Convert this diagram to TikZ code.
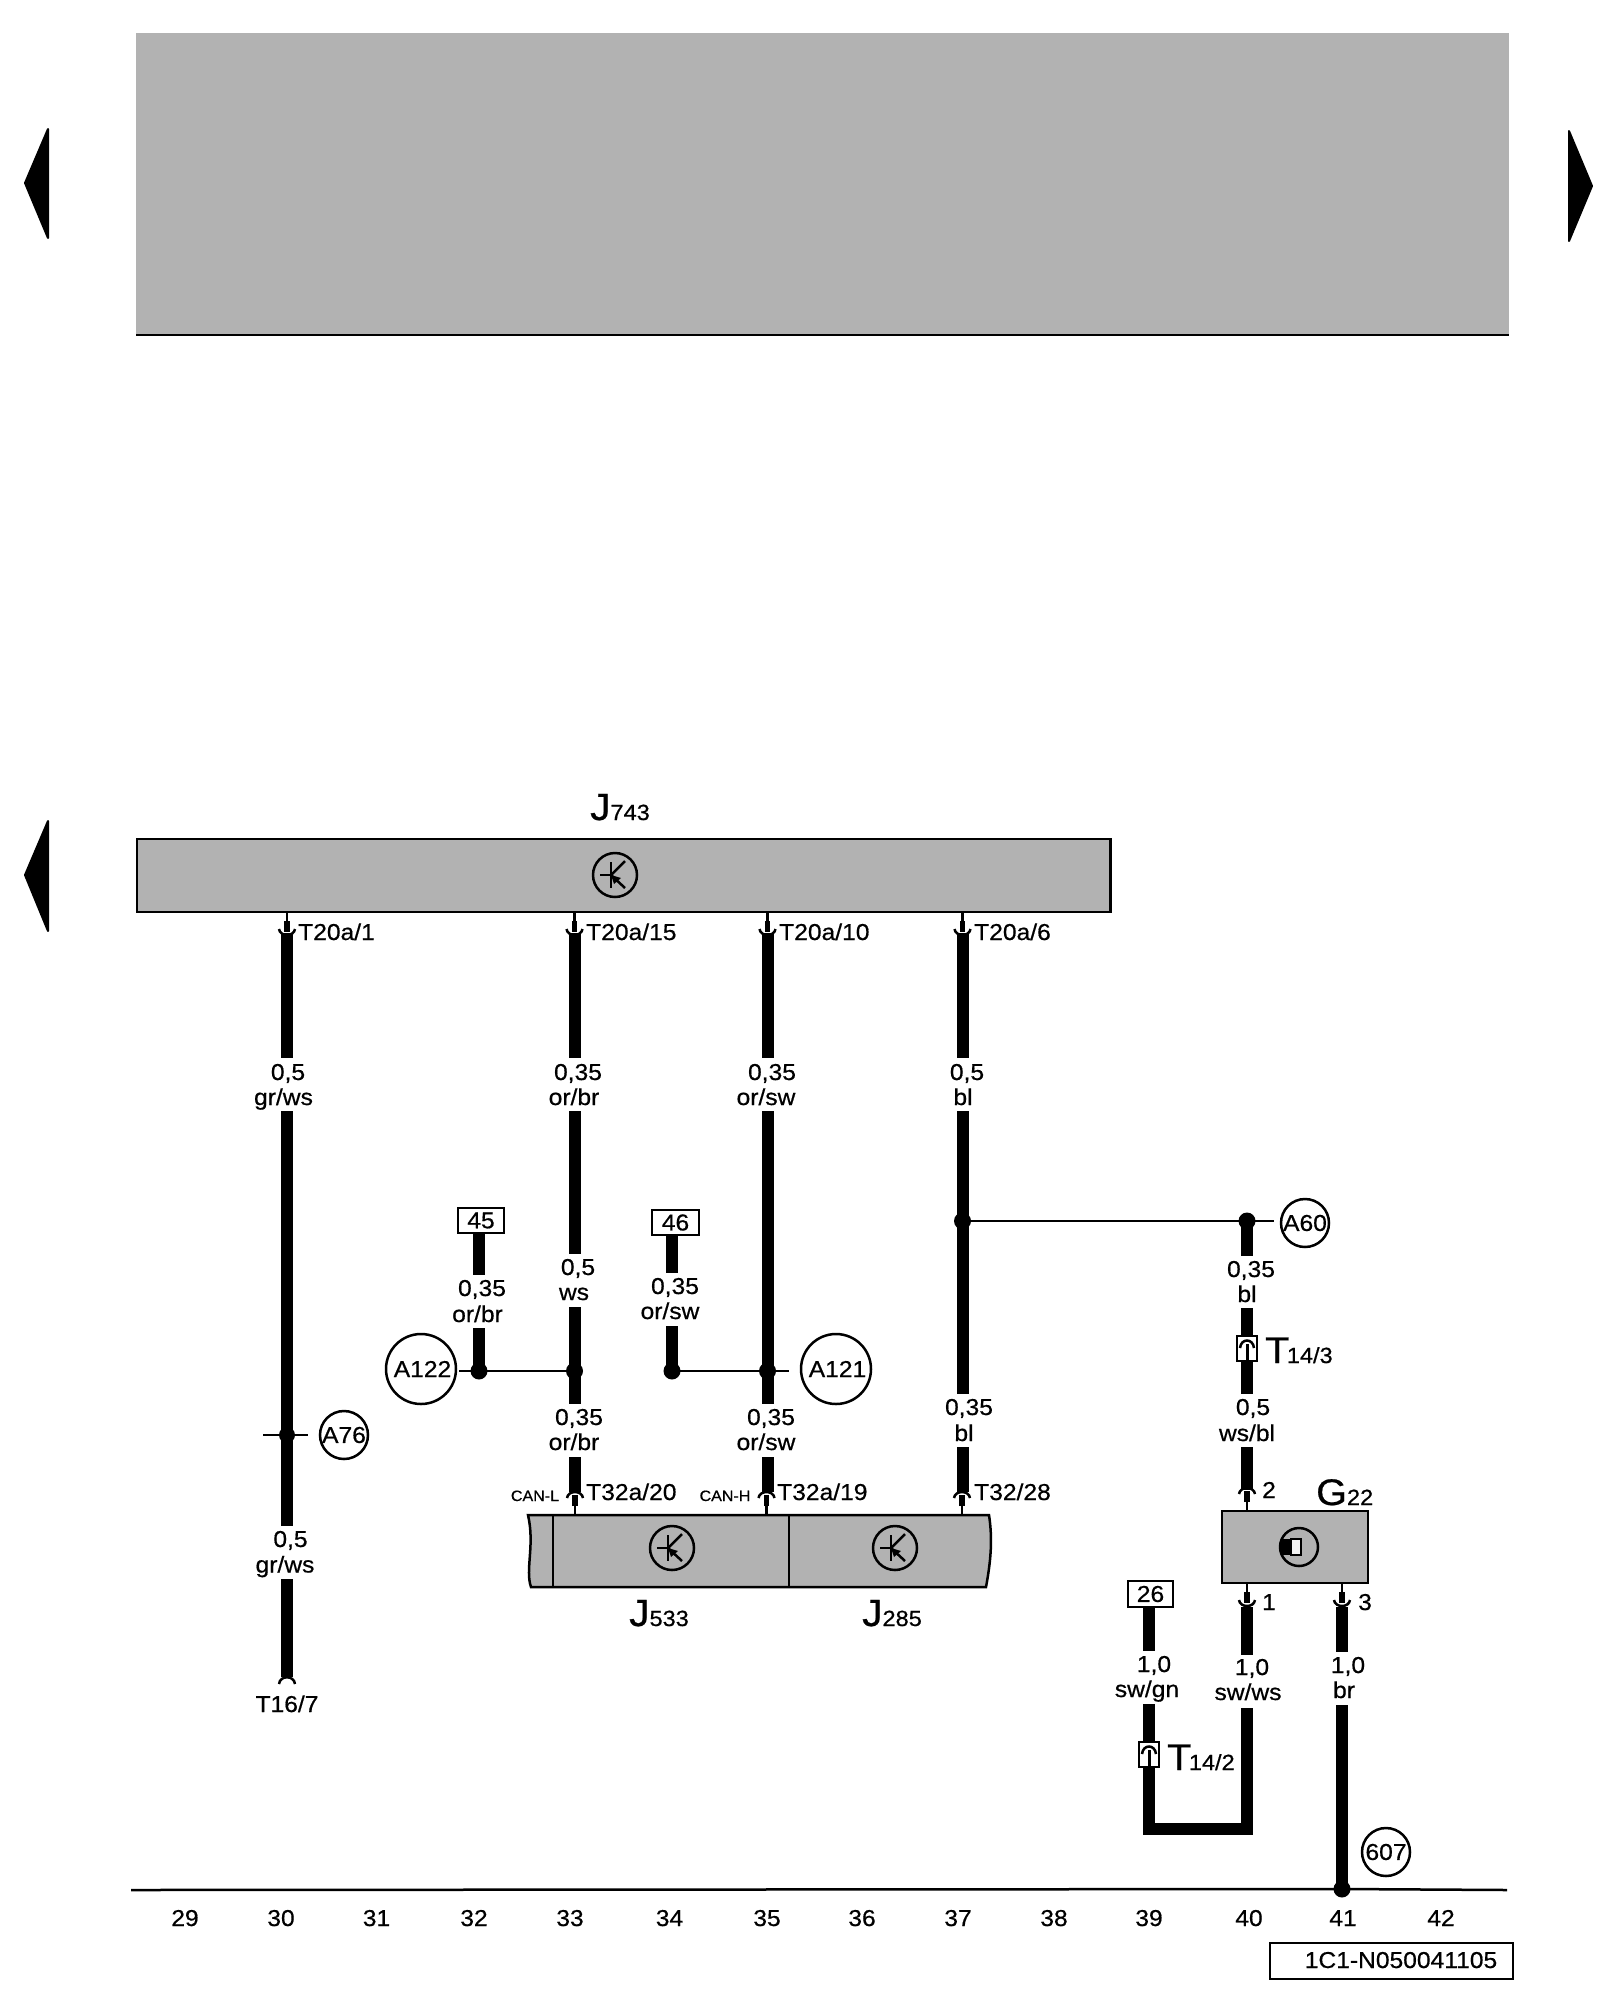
\documentclass[tikz,border=0pt]{standalone}
\usepackage{fontspec}
\setmainfont[FakeStretch=1.07,FakeBold=0.6]{Liberation Sans}
\definecolor{modgray}{HTML}{B2B2B2}
\newcommand\fsz[1]{\fontsize{#1}{#1}\selectfont}
\newcommand\bigsub[2]{{\fsz{37}#1}\kern-2.5pt{\fsz{22}#2}}
% pins: #1 x, #2 y of the box edge
\newcommand\pinDown[2]{
  \draw[thinline] (#1,#2) -- (#1,#2+10);
  \draw[stem] (#1,#2+9) -- (#1,#2+20);
  \draw[pinarc] (#1-8,#2+17) .. controls (#1-7,#2+25) and (#1+7,#2+25) .. (#1+8,#2+17);
}
\newcommand\pinUp[2]{
  \draw[thinline] (#1,#2) -- (#1,#2-10);
  \draw[stem] (#1,#2-9) -- (#1,#2-20);
  \draw[pinarc] (#1-8,#2-17) .. controls (#1-7,#2-25) and (#1+7,#2-25) .. (#1+8,#2-17);
}
% transistor symbol: #1 name, #2 x, #3 y
\newcommand\transistor[3]{
  \node[symcirc,minimum size=44pt] (#1) at (#2,#3) {};
  \draw[symline] (#2-4,#3-13) -- (#2-4,#3+13);
  \draw[symline] (#2-15,#3) -- (#2-4,#3);
  \draw[symline] (#2-4,#3) -- (#2+10,#3-14);
  \draw[symline] (#2-4,#3) -- (#2+10,#3+13);
  \fill (#2-4,#3) -- (#2-1,#3+9) -- (#2+6,#3+3) -- cycle;
}
% inline connector: #1 name, #2 x centre, #3 top, #4 bottom
\newcommand\inlinepin[4]{
  \node[conbox,minimum width=20pt,minimum height=#4-#3] (#1) at (#2,#3/2+#4/2) {};
  \draw[pinarc] (#2-7,#3+12) .. controls (#2-6,#3+2) and (#2+6,#3+2) .. (#2+7,#3+12);
  \draw[line width=3pt] (#2,#3+8) -- (#2,#4);
}
\tikzset{
  x=1pt,y=-1pt,
  wire/.style={line width=12pt,black},
  thinline/.style={line width=2.5pt,black},
  stem/.style={line width=5.5pt,black},
  pinarc/.style={line width=2.5pt,black},
  symline/.style={line width=2.5pt,black},
  symcirc/.style={circle,draw=black,line width=2.5pt,inner sep=0pt},
  module/.style={fill=modgray,draw=black,line width=2.5pt},
  conbox/.style={rectangle,draw=black,fill=white,line width=2.5pt,inner sep=0pt},
  numbox/.style={rectangle,draw=black,fill=white,line width=2.5pt,inner sep=0pt,font=\fsz{23}},
  jdot/.style={circle,fill=black,inner sep=0pt,minimum size=17pt},
  lab/.style={inner sep=0pt,anchor=base,font=\fsz{23}},
  labl/.style={inner sep=0pt,anchor=base west,font=\fsz{23}},
  small/.style={inner sep=0pt,anchor=base,font=\fsz{15}},
  ref/.style={circle,draw=black,line width=2.5pt,inner sep=0pt,font=\fsz{23}},
  nav/.style={fill=black,draw=black,line width=2pt,line join=round},
}
\begin{document}
\begin{tikzpicture}
\useasboundingbox (0,0) rectangle (1600,2000);
\fill[white] (0,0) rectangle (1600,2000);
% top grey block
\fill[modgray] (136,33) rectangle (1509,335);
\draw[thinline] (136,335) -- (1509,335);
% navigation arrows
\draw[nav] (48,129) -- (25,183) -- (48,238) -- cycle;
\draw[nav] (48,821) -- (25,875) -- (48,931) -- cycle;
\draw[nav] (1569,131) -- (1592,186) -- (1569,241) -- cycle;
% J743
\node[module,rectangle,inner sep=0pt,minimum width=973.5pt,minimum height=73pt] (J743box) at (623.5,875.5) {};
\transistor{J743sym}{615}{875}
\node[labl] (J743lab) at (590,820) {{\fsz{38}J}{\fsz{22}743}};
% J533 / J285
\draw[module] (528,1515) -- (989,1515) .. controls (992,1535) and (992,1555) .. (986,1587)
  -- (531,1587) .. controls (525,1570) and (535,1545) .. (528,1515) -- cycle;
\draw[thinline] (553,1515) -- (553,1587);
\draw[thinline] (789,1515) -- (789,1587);
\transistor{J533sym}{672}{1548}
\transistor{J285sym}{895}{1548}
\node[labl] (J533lab) at (629,1626) {{\fsz{38}J}{\fsz{22}533}};
\node[labl] (J285lab) at (862,1626) {{\fsz{38}J}{\fsz{22}285}};
% G22
\node[module,rectangle,inner sep=0pt,minimum width=146pt,minimum height=72pt] (G22box) at (1295,1547) {};
\begin{scope}
  \clip (1299,1547) circle (19);
  \fill[black] (1278,1539) rectangle (1291,1555);
\end{scope}
\draw[line width=2.5pt,fill=white!85!modgray] (1291,1539) rectangle (1301,1555);
\node[symcirc,minimum size=38pt] (G22sym) at (1299,1547) {};
\node[labl] (G22lab) at (1316,1505) {{\fsz{37}G}{\fsz{22}22}};
% terminal boxes
\node[numbox,minimum width=46pt,minimum height=25pt] (b45) at (481,1220.5) {45};
\node[numbox,minimum width=47pt,minimum height=25pt] (b46) at (675.5,1222.5) {46};
\node[numbox,minimum width=45pt,minimum height=26pt] (b26) at (1150.5,1594) {26};
% junctions
\node[jdot] (j33) at (574.5,1371) {};
\node[jdot] (j35) at (767.5,1371) {};
\node[jdot] (j32) at (479,1371) {};
\node[jdot] (j34) at (672,1371) {};
\node[jdot] (j37) at (962.5,1221) {};
\node[jdot] (j40) at (1247,1221) {};
\node[jdot,minimum size=16pt] (j30) at (287,1435) {};
\node[jdot] (j41) at (1342,1889) {};
% reference circles
\node[ref,minimum size=70pt] (A122) at (421,1369) {\makebox[0pt]{\hspace{3pt}A122}};
\node[ref,minimum size=70pt] (A121) at (836,1369) {\makebox[0pt]{\hspace{3pt}A121}};
\node[ref,minimum size=48pt] (A76) at (344,1435) {\makebox[0pt]{A76}};
\node[ref,minimum size=48pt] (A60) at (1305,1223) {\makebox[0pt]{A60}};
\node[ref,minimum size=48pt] (r607) at (1386,1852) {\makebox[0pt]{607}};
% thin links
\coordinate (A122end) at (459,1371);
\coordinate (A121end) at (789,1371);
\coordinate (A60end) at (1274,1221);
\coordinate (A76l) at (263,1435);
\coordinate (A76r) at (308,1435);
\draw[thinline] (A122end) -- (j33.center);
\draw[thinline] (j34.center) -- (A121end);
\draw[thinline] (j37.center) -- (A60end);
\draw[thinline] (A76l) -- (A76r);
% wires
\foreach \n/\x/\a/\b in {
  a1/287/933/1058, a2/287/1111/1526, a3/287/1579/1677,
  b1/574.5/933/1058, b2/574.5/1111/1254, b3/574.5/1307/1404, b4/574.5/1457/1492,
  c1/767.5/933/1058, c2/767.5/1111/1404, c3/767.5/1457/1492,
  d1/962.5/933/1058, d2/962.5/1111/1394, d3/962.5/1447/1492,
  e1/479/1233/1275, e2/479/1328/1371,
  f1/672/1235/1273, f2/672/1326/1371,
  g1/1247/1221/1256, g2/1247/1308/1394, g3/1247/1447/1490,
  h1/1247/1607/1655,
  i1/1149/1607/1651,
  k1/1342/1607/1652, k2/1342/1705/1889}{
  \coordinate (\n s) at (\x,\a);
  \coordinate (\n e) at (\x,\b);
  \draw[wire] (\n s) -- (\n e);
}
% return loop 39-40
\coordinate (loopA) at (1149,1704);
\coordinate (loopB) at (1149,1829);
\coordinate (loopC) at (1247,1829);
\coordinate (loopD) at (1247,1708);
\draw[wire,line join=miter] (loopA) -- (loopB) -- (loopC) -- (loopD);
% pins
\pinDown{287}{912}
\pinDown{574.5}{912}
\pinDown{767.5}{912}
\pinDown{962.5}{912}
\pinUp{575}{1515}
\pinUp{766.5}{1515}
\pinUp{962}{1515}
\pinUp{1247}{1511}
\pinDown{1247}{1583}
\pinDown{1342}{1583}
\draw[pinarc] (279,1684) .. controls (280,1675) and (294,1675) .. (295,1684);
% in-line connectors
\inlinepin{T143}{1247}{1336}{1361}
\inlinepin{T142}{1149}{1742}{1767}
\node[labl] (T143lab) at (1265,1363) {\bigsub{T}{14/3}};
\node[labl] (T142lab) at (1167,1770) {\bigsub{T}{14/2}};
% ground bus
\coordinate (busL) at (131,1890);
\coordinate (busR) at (1507,1890);
\draw[thinline] (busL) -- (j41.center) -- (busR);
% pin labels
\node[labl] (pT201) at (298,940) {T20a/1};
\node[labl] (pT2015) at (586,940) {T20a/15};
\node[labl] (pT2010) at (779,940) {T20a/10};
\node[labl] (pT206) at (974,940) {T20a/6};
\node[labl] (pT3220) at (586,1500) {T32a/20};
\node[labl] (pT3219) at (777,1500) {T32a/19};
\node[labl] (pT3228) at (974,1500) {T32/28};
\node[small] (canl) at (535,1501) {CAN-L};
\node[small] (canh) at (725,1501) {CAN-H};
\node[lab] (pT167) at (287,1712) {T16/7};
\node[lab] (p2) at (1269,1498) {2};
\node[lab] (p1) at (1269,1610) {1};
\node[lab] (p3) at (1365,1610) {3};
% wire labels
\node[lab] (a1x) at (288,1080) {0,5};
\node[lab] (a1c) at (283.5,1105) {gr/ws};
\node[lab] (a2x) at (290.5,1547) {0,5};
\node[lab] (a2c) at (285,1572.5) {gr/ws};
\node[lab] (b1x) at (578,1080) {0,35};
\node[lab] (b1c) at (574,1105) {or/br};
\node[lab] (b2x) at (578,1275) {0,5};
\node[lab] (b2c) at (574,1300) {ws};
\node[lab] (b3x) at (579,1425) {0,35};
\node[lab] (b3c) at (574,1450) {or/br};
\node[lab] (c1x) at (772,1080) {0,35};
\node[lab] (c1c) at (766,1105) {or/sw};
\node[lab] (c3x) at (771,1425) {0,35};
\node[lab] (c3c) at (766,1450) {or/sw};
\node[lab] (d1x) at (967,1080) {0,5};
\node[lab] (d1c) at (963,1105) {bl};
\node[lab] (d3x) at (969,1415) {0,35};
\node[lab] (d3c) at (964,1441) {bl};
\node[lab] (e1x) at (482,1296) {0,35};
\node[lab] (e1c) at (477.5,1322) {or/br};
\node[lab] (f1x) at (675,1294) {0,35};
\node[lab] (f1c) at (670,1319) {or/sw};
\node[lab] (g1x) at (1251,1277) {0,35};
\node[lab] (g1c) at (1247,1302) {bl};
\node[lab] (g2x) at (1253,1415) {0,5};
\node[lab] (g2c) at (1247,1441) {ws/bl};
\node[lab] (i1x) at (1154,1672) {1,0};
\node[lab] (i1c) at (1147,1697) {sw/gn};
\node[lab] (h1x) at (1252,1675) {1,0};
\node[lab] (h1c) at (1248,1700) {sw/ws};
\node[lab] (k1x) at (1348,1673) {1,0};
\node[lab] (k1c) at (1344,1698) {br};
% column numbers
\node[lab] (n29) at (185,1926) {29};
\node[lab] (n30) at (281,1926) {30};
\node[lab] (n31) at (376.5,1926) {31};
\node[lab] (n32) at (474,1926) {32};
\node[lab] (n33) at (570,1926) {33};
\node[lab] (n34) at (669.5,1926) {34};
\node[lab] (n35) at (767,1926) {35};
\node[lab] (n36) at (862,1926) {36};
\node[lab] (n37) at (958,1926) {37};
\node[lab] (n38) at (1054,1926) {38};
\node[lab] (n39) at (1149,1926) {39};
\node[lab] (n40) at (1249,1926) {40};
\node[lab] (n41) at (1343,1926) {41};
\node[lab] (n42) at (1441,1926) {42};
% drawing code
\node[rectangle,draw=black,line width=2.5pt,minimum width=243pt,minimum height=36pt,inner sep=0pt] (codebox) at (1391.5,1961) {};
\node[lab] (code) at (1401,1968) {1C1-N050041105};
\end{tikzpicture}
\end{document}
